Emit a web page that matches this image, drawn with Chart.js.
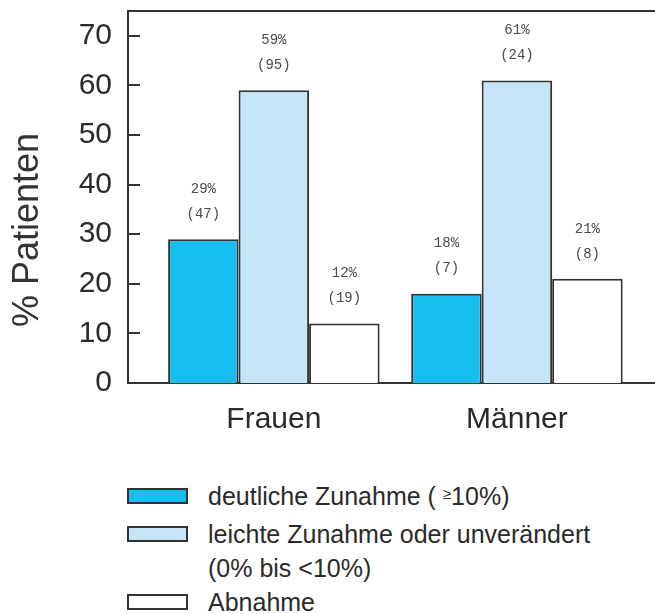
<!DOCTYPE html>
<html>
<head>
<meta charset="utf-8">
<script src="https://cdn.jsdelivr.net/npm/chart.js@4"></script>
<style>
    body { margin: 0; background: #fff; }
    #wrap { position: relative; width: 655px; height: 614px; }
    #chartBox { position: absolute; left: 0; top: 0; width: 655px; height: 455px; }
    #legend {
        position: absolute; left: 127px; top: 479px;
        font-family: "Liberation Sans", Arial, sans-serif;
        font-size: 25px; line-height: 34px; color: #2a2a2a;
    }
    .row { position: relative; padding-left: 81px; }
    .box {
        position: absolute; left: 0; top: 9px;
        width: 57px; height: 12px; border: 2px solid #333;
    }
    .ge { font-size: 15px; position: relative; top: -6px; }
</style>
</head>
<body>
<div id="wrap">
    <div id="chartBox"><canvas id="chart"></canvas></div>
    <div id="legend"></div>
</div>
<script>
const categories = ["Frauen", "Männer"];
const seriesNames = [
    "deutliche Zunahme",
    "leichte Zunahme oder unverändert",
    "Abnahme"
];
const deutlich = [29, 18];
const leicht = [59, 61];
const abnahme = [12, 21];
const deutlichN = [47, 7];
const leichtN = [95, 24];
const abnahmeN = [19, 8];
const yTicks = [0, 10, 20, 30, 40, 50, 60, 70];

const colors = ["#17bdee", "#c6e6f7", "#ffffff"];
const frameColor = "#333333";

function toPoints(values) {
    return values.map((v, i) => ({ x: i + 1, y: v }));
}

const counts = [deutlichN, leichtN, abnahmeN];

// frame top line, inward y ticks, bar labels, y title
const extras = {
    id: "extras",
    afterDatasetsDraw(chart) {
        const ctx = chart.ctx;
        const area = chart.chartArea;
        const y = chart.scales.y;
        ctx.save();
        ctx.strokeStyle = frameColor;
        ctx.lineWidth = 2;
        ctx.beginPath();
        ctx.moveTo(area.left - 1, area.top);
        ctx.lineTo(area.right, area.top);
        yTicks.forEach((t) => {
            if (t === 0) return;
            const py = Math.round(y.getPixelForValue(t));
            ctx.moveTo(area.left, py);
            ctx.lineTo(area.left + 12, py);
        });
        ctx.stroke();

        ctx.fillStyle = "#4a4a4a";
        ctx.font = "14px 'Liberation Mono', 'Courier New', monospace";
        ctx.textAlign = "center";
        ctx.textBaseline = "middle";
        chart.data.datasets.forEach((ds, di) => {
            const meta = chart.getDatasetMeta(di);
            meta.data.forEach((bar, i) => {
                const v = ds.data[i].y;
                ctx.fillText(v + "%", bar.x, bar.y - 50);
                ctx.fillText("(" + counts[di][i] + ")", bar.x, bar.y - 25);
            });
        });

        ctx.translate(28, 230);
        ctx.rotate(-Math.PI / 2);
        ctx.fillStyle = "#333";
        ctx.font = "36px 'Liberation Sans', Arial, sans-serif";
        ctx.fillText("% Patienten", 0, 0);
        ctx.restore();
    }
};

const ctx = document.getElementById("chart").getContext("2d");
new Chart(ctx, {
    type: "bar",
    data: {
        datasets: [
            {
                label: seriesNames[0],
                data: toPoints(deutlich),
                backgroundColor: colors[0],
                borderColor: frameColor,
                borderWidth: 2,
            },
            {
                label: seriesNames[1],
                data: toPoints(leicht),
                backgroundColor: colors[1],
                borderColor: frameColor,
                borderWidth: 2,
            },
            {
                label: seriesNames[2],
                data: toPoints(abnahme),
                backgroundColor: colors[2],
                borderColor: frameColor,
                borderWidth: 2,
            },
        ],
    },
    options: {
        responsive: true,
        maintainAspectRatio: false,
        animation: false,
        categoryPercentage: 0.87,
        barPercentage: 1.0,
        layout: { padding: { top: 11, right: 0, bottom: 0, left: 0 } },
        plugins: {
            legend: { display: false },
            tooltip: { enabled: false },
        },
        scales: {
            x: {
                type: "linear",
                offset: false,
                min: 0.4,
                max: 2.568,
                grid: { display: false, drawTicks: false, offset: false },
                border: { display: true, color: frameColor, width: 2 },
                afterBuildTicks(scale) {
                    scale.ticks = categories.map((c, i) => ({ value: i + 1 }));
                },
                afterFit(scale) {
                    scale.height = 72;
                },
                ticks: {
                    padding: 19,
                    color: "#2a2a2a",
                    font: { family: "'Liberation Sans', Arial, sans-serif", size: 30 },
                    callback: (value) => categories[Math.round(value) - 1],
                },
            },
            y: {
                min: 0,
                max: 75,
                grid: { display: false, drawTicks: false },
                border: { display: true, color: frameColor, width: 2 },
                afterBuildTicks(scale) {
                    scale.ticks = yTicks.map((v) => ({ value: v }));
                },
                afterFit(scale) {
                    scale.width = 128;
                    scale.paddingTop = 0;
                    scale.paddingBottom = 0;
                },
                ticks: {
                    padding: 16,
                    color: "#2a2a2a",
                    font: { family: "'Liberation Sans', Arial, sans-serif", size: 30 },
                },
            },
        },
    },
    plugins: [extras],
});

// legend below the plot
const legendRows = [
    { color: colors[0], html: "deutliche Zunahme ( <span class='ge'>≥</span>10%)" },
    { color: colors[1], html: "leichte Zunahme oder unverändert<br>(0% bis &lt;10%)" },
    { color: colors[2], html: "Abnahme" },
];
const legendEl = document.getElementById("legend");
legendRows.forEach((r) => {
    const row = document.createElement("div");
    row.className = "row";
    row.innerHTML = "<span class='box' style='background:" + r.color + "'></span>" + r.html;
    legendEl.appendChild(row);
});
</script>
</body>
</html>
